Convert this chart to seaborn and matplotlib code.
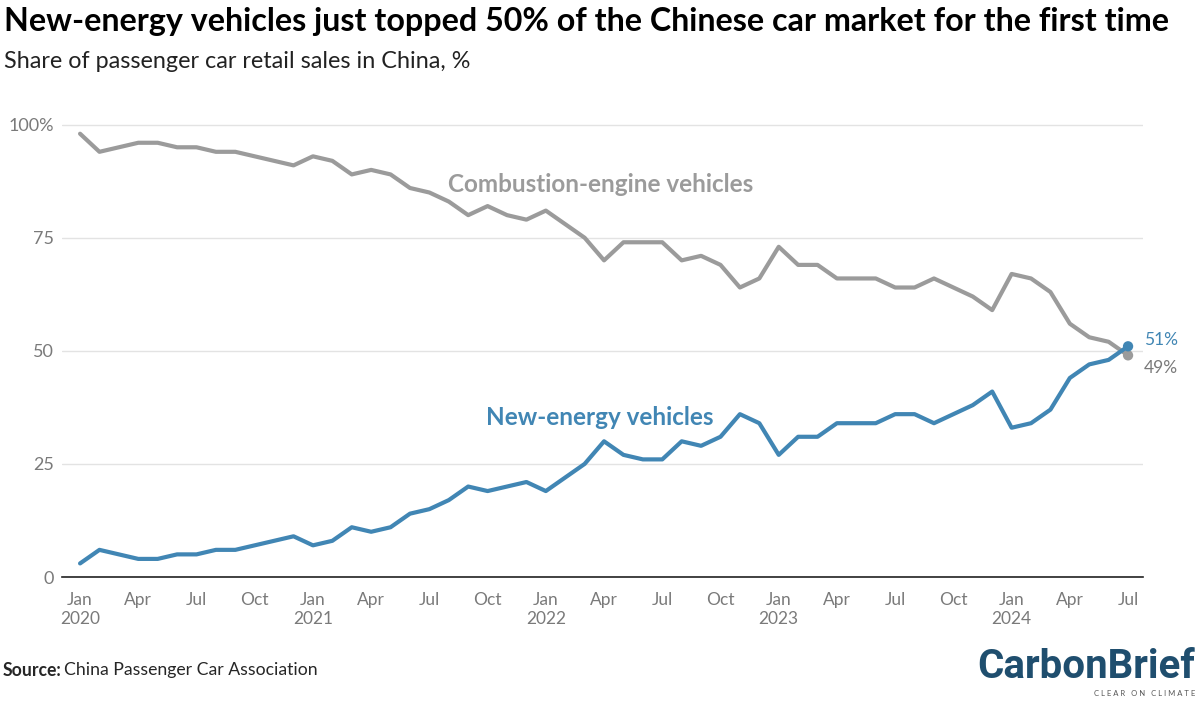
import pandas as pd
import matplotlib.pyplot as plt
import seaborn as sns
import numpy as np

# monthly share of passenger car retail sales in China, %
months = pd.date_range('2020-01-01', '2024-07-01', freq='MS')
ice = [98, 94, 95, 96, 96, 95, 95, 94, 94, 93, 92, 91,
       93, 92, 89, 90, 89, 86, 85, 83, 80, 82, 80, 79,
       81, 78, 75, 70, 74, 74, 74, 70, 71, 69, 64, 66,
       73, 69, 69, 66, 66, 66, 64, 64, 66, 64, 62, 59,
       67, 66, 63, 56, 53, 52, 49]
nev = [3, 6, 5, 4, 4, 5, 5, 6, 6, 7, 8, 9,
       7, 8, 11, 10, 11, 14, 15, 17, 20, 19, 20, 21,
       19, 22, 25, 30, 27, 26, 26, 30, 29, 31, 36, 34,
       27, 31, 31, 34, 34, 34, 36, 36, 34, 36, 38, 41,
       33, 34, 37, 44, 47, 48, 51]
tick_labels = ['Jan\n2020', 'Apr', 'Jul', 'Oct', 'Jan\n2021', 'Apr', 'Jul', 'Oct',
               'Jan\n2022', 'Apr', 'Jul', 'Oct', 'Jan\n2023', 'Apr', 'Jul', 'Oct',
               'Jan\n2024', 'Apr', 'Jul']

GREY = '#9b9b9b'
BLUE = '#4186b4'
LABEL = '#7a7a7a'

df = pd.DataFrame({'month': np.arange(len(months)),
                   'Combustion-engine vehicles': ice,
                   'New-energy vehicles': nev})
long = df.melt(id_vars='month', var_name='type', value_name='share')

sns.set_style('white')
plt.rcParams['font.family'] = ['Lato', 'DejaVu Sans']

fig = plt.figure(figsize=(12, 7.03), dpi=100)
ax = fig.add_axes([62 / 1200, 1 - 577 / 703, (1143 - 62) / 1200, (577 - 112) / 703])

sns.lineplot(data=long, x='month', y='share', hue='type',
             palette={'Combustion-engine vehicles': GREY, 'New-energy vehicles': BLUE},
             linewidth=3, legend=False, ax=ax)

last = len(months) - 1
ax.scatter([last], [ice[-1]], s=55, color=GREY, zorder=5, edgecolor='none')
ax.scatter([last], [nev[-1]], s=55, color=BLUE, zorder=6, edgecolor='none')

ax.set_xlim(-0.93, 54.77)
ax.set_ylim(0, 102.8)
ax.set_yticks([0, 25, 50, 75, 100])
ax.set_yticklabels(['0', '25', '50', '75', '100%'])
ax.set_xticks(np.arange(0, len(months), 3))
ax.set_xticklabels(tick_labels)
ax.yaxis.grid(True, color='#e3e3e3', linewidth=1)
ax.set_axisbelow(True)
for s in ['top', 'right', 'left']:
    ax.spines[s].set_visible(False)
ax.spines['bottom'].set_color('#222222')
ax.spines['bottom'].set_linewidth(1.2)
ax.tick_params(axis='x', direction='out', length=6, width=1.2, color='#222222',
               labelsize=12.5, labelcolor=LABEL, pad=5)
ax.tick_params(axis='y', length=0, labelsize=13, labelcolor=LABEL, pad=6)
ax.set_xlabel('')
ax.set_ylabel('')

ax.text(26.8, 86.7, 'Combustion-engine vehicles', color=GREY, fontsize=17.5,
        fontweight='bold', ha='center', va='center')
ax.text(26.8, 35.2, 'New-energy vehicles', color=BLUE, fontsize=17.5,
        fontweight='bold', ha='center', va='center')
ax.text(last + 0.8, 52.3, '51%', color=BLUE, fontsize=12.5, ha='left', va='center')
ax.text(last + 0.8, 46.2, '49%', color=LABEL, fontsize=12.5, ha='left', va='center')

fig.text(0.003, 1 - 22 / 703, 'New-energy vehicles just topped 50% of the Chinese car market for the first time',
         fontsize=23.2, fontweight='bold', color='black', va='center', ha='left')
fig.text(0.003, 1 - 61 / 703, 'Share of passenger car retail sales in China, %',
         fontsize=16.8, color='#222222', va='center', ha='left')

fig.text(0.002, 1 - 670 / 703, 'Source:', fontsize=12.7, fontweight='bold', va='center', ha='left')
fig.text(0.0535, 1 - 670 / 703, 'China Passenger Car Association', fontsize=12.7, va='center', ha='left')

fig.text(0.996, 1 - 667 / 703, 'CarbonBrief', fontsize=29, fontweight='bold', color='#1f4e6e',
         va='center', ha='right', family=['Liberation Sans Narrow', 'Roboto', 'DejaVu Sans'])
fig.text(0.996, 1 - 694 / 703, 'C L E A R   O N   C L I M A T E', fontsize=5.5, color='#555555',
         va='center', ha='right')

fig.savefig('out.png', dpi=100, facecolor='white')
